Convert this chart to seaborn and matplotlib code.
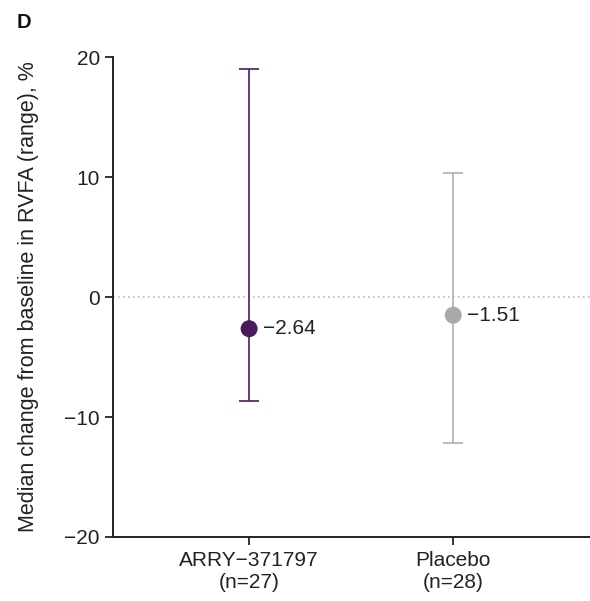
import numpy as np
import pandas as pd
import matplotlib
matplotlib.use('Agg')
import matplotlib.pyplot as plt
import seaborn as sns

groups = ['ARRY\u2212371797\n(n=27)', 'Placebo\n(n=28)']
medians = [-2.64, -1.51]
range_low = [-8.7, -12.2]
range_high = [19.0, 10.3]
labels = ['\u22122.64', '\u22121.51']
colors = ['#4b1a5e', '#a7a9ac']
line_colors = ['#5a2a70', '#b5b6b8']

df = pd.DataFrame({'group': groups, 'median': medians, 'lo': range_low, 'hi': range_high})

sns.set_style('ticks')
plt.rcParams['font.family'] = ['Liberation Sans', 'DejaVu Sans']

fig = plt.figure(figsize=(5.9, 6.01), dpi=100)
ax = fig.add_axes([0.1915, 0.1065, 0.8085, 0.7985])

ax.axhline(0, color='#bbbbbb', lw=1.2, ls=(0, (1, 2)), zorder=0)

for i, row in df.iterrows():
    ax.errorbar(i, row['median'],
                yerr=[[row['median'] - row['lo']], [row['hi'] - row['median']]],
                fmt='none', ecolor=line_colors[i], elinewidth=1.3, capsize=7, capthick=1.3, zorder=2)

sns.scatterplot(data=df, x='group', y='median', hue='group', palette=colors,
                s=150, edgecolor='none', legend=False, ax=ax, zorder=3)

for i, row in df.iterrows():
    ax.annotate(labels[i], (i, row['median']), xytext=(10, 0), textcoords='offset points',
                va='center', ha='left', fontsize=15, color='#222222')

ax.set_xlim(-0.667, 1.67)
ax.set_ylim(-20, 20)
ax.set_yticks([-20, -10, 0, 10, 20])
ax.set_yticklabels(['\u221220', '\u221210', '0', '10', '20'])
ax.set_xlabel('')
ax.set_ylabel('Median change from baseline in RVFA (range), %', fontsize=15.5, color='#222222', labelpad=18)
ax.tick_params(axis='both', labelsize=15, colors='#222222', length=6, width=1.3, direction='out')
ax.tick_params(axis='x', pad=4)
for sp in ['top', 'right']:
    ax.spines[sp].set_visible(False)
for sp in ['left', 'bottom']:
    ax.spines[sp].set_linewidth(1.4)
    ax.spines[sp].set_color('#222222')

fig.text(0.028, 0.963, 'D', fontsize=14.5, fontweight='bold', color='#111111', va='center')

fig.savefig('out.png', dpi=100)
